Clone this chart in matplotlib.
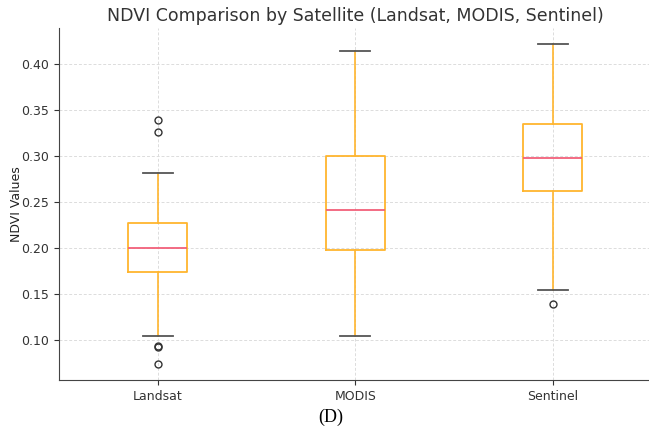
import matplotlib
matplotlib.use("Agg")
import matplotlib.pyplot as plt

# values
satellites = ["Landsat", "MODIS", "Sentinel"]
whisker_low = [0.104, 0.104, 0.154]
q1 = [0.174, 0.1985, 0.262]
median = [0.200, 0.241, 0.298]
q3 = [0.227, 0.300, 0.335]
whisker_high = [0.282, 0.414, 0.422]
outliers = [
    [0.339, 0.326, 0.094, 0.092, 0.074],
    [],
    [0.139],
]

stats = []
for i, name in enumerate(satellites):
    stats.append({
        "label": name,
        "whislo": whisker_low[i],
        "q1": q1[i],
        "med": median[i],
        "q3": q3[i],
        "whishi": whisker_high[i],
        "fliers": outliers[i],
    })

fig = plt.figure(figsize=(6.49, 4.30), dpi=100)
ax = fig.add_axes([0.0909, 0.1163, 0.913, 0.8186])

ax.bxp(stats, positions=[1, 2, 3], widths=0.3,
       boxprops=dict(color="#FFB52E", linewidth=1.3),
       whiskerprops=dict(color="#FFB52E", linewidth=1.2),
       capprops=dict(color="#555555", linewidth=1.3),
       medianprops=dict(color="#F2607A", linewidth=1.3),
       flierprops=dict(marker="o", markerfacecolor="none",
                       markeredgecolor="#333333", markersize=5))

ax.set_xlim(0.5, 3.5)
ax.grid(True, linestyle=(0, (3, 2)), color="#dcdcdc", linewidth=0.7)
ax.set_axisbelow(True)
for s in ["top", "right"]:
    ax.spines[s].set_visible(False)
for s in ["left", "bottom"]:
    ax.spines[s].set_color("#444444")

ax.tick_params(labelsize=9, colors="#333333")
ax.set_yticks([0.10, 0.15, 0.20, 0.25, 0.30, 0.35, 0.40])
ax.set_ylabel("NDVI Values", fontsize=9, color="#222222", labelpad=-1)
ax.set_title("NDVI Comparison by Satellite (Landsat, MODIS, Sentinel)",
             fontsize=12.5, color="#333333", pad=5)

fig.text(0.509, 0.03, "(D)", fontsize=13, family="Liberation Serif",
         ha="center", va="center", color="black")

fig.savefig("out.png", dpi=100)
